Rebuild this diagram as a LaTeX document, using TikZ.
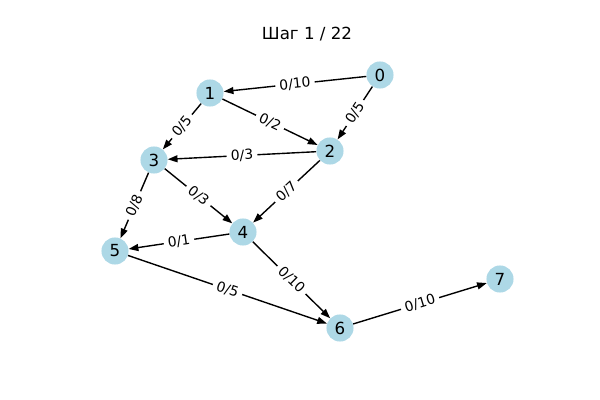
\documentclass[tikz,border=0pt]{standalone}
\usepackage{fontspec}
\setmainfont{DejaVu Sans}
\usetikzlibrary{arrows.meta}
\definecolor{nodeblue}{HTML}{ADD8E6}
\begin{document}
\begin{tikzpicture}[x=0.72pt, y=-0.72pt,
  vertex/.style={circle, fill=nodeblue, minimum size=19.5pt, inner sep=0pt, font=\fontsize{12}{14}\selectfont},
  flow/.style={line width=1pt, -{Triangle[length=7pt, width=5pt]}},
  flowlabel/.style={midway, sloped, fill=white, rounded corners=2pt, inner xsep=3pt, inner ysep=1.5pt, font=\fontsize{10}{12}\selectfont}]
  \useasboundingbox (0,0) rectangle (600,400);
  \node[font=\fontsize{12}{14}\selectfont] (title) at (307,34) {Шаг 1 / 22};
  % vertices
  \node[vertex] (n0) at (380,75) {0};
  \node[vertex] (n1) at (210,93) {1};
  \node[vertex] (n2) at (330,151) {2};
  \node[vertex] (n3) at (154,160) {3};
  \node[vertex] (n4) at (243,232) {4};
  \node[vertex] (n5) at (115,251) {5};
  \node[vertex] (n6) at (340,328) {6};
  \node[vertex] (n7) at (500,279) {7};
  % edges with flow/capacity
  \draw[flow] (n0) -- node[flowlabel] {0/10} (n1);
  \draw[flow] (n0) -- node[flowlabel] {0/5} (n2);
  \draw[flow] (n1) -- node[flowlabel] {0/2} (n2);
  \draw[flow] (n1) -- node[flowlabel] {0/5} (n3);
  \draw[flow] (n2) -- node[flowlabel] {0/3} (n3);
  \draw[flow] (n2) -- node[flowlabel] {0/7} (n4);
  \draw[flow] (n3) -- node[flowlabel] {0/3} (n4);
  \draw[flow] (n3) -- node[flowlabel] {0/8} (n5);
  \draw[flow] (n4) -- node[flowlabel] {0/1} (n5);
  \draw[flow] (n4) -- node[flowlabel] {0/10} (n6);
  \draw[flow] (n5) -- node[flowlabel] {0/5} (n6);
  \draw[flow] (n6) -- node[flowlabel] {0/10} (n7);
\end{tikzpicture}
\end{document}
